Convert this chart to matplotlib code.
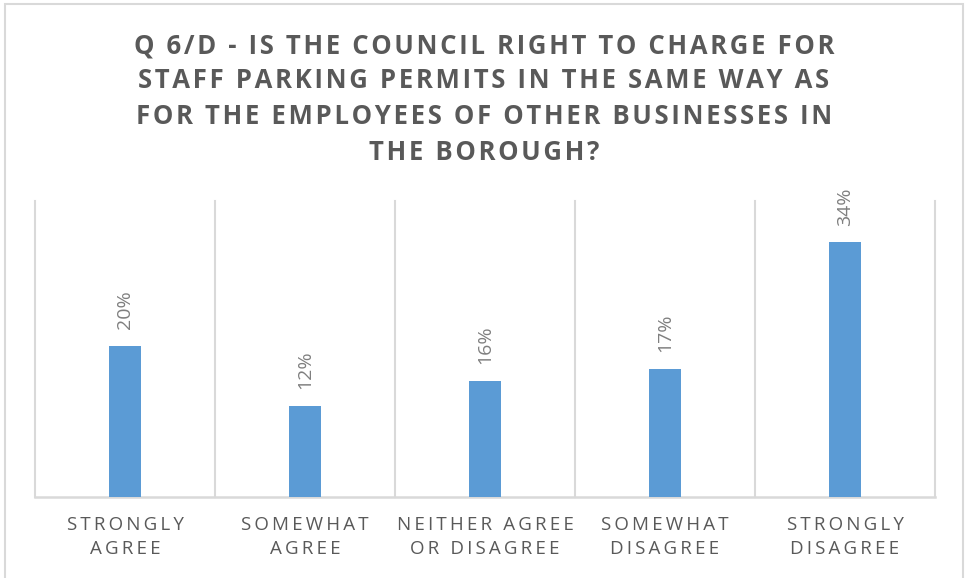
import numpy as np
import matplotlib
matplotlib.use("Agg")
import matplotlib.pyplot as plt
from matplotlib.patches import Rectangle

categories = [
    ["STRONGLY", "AGREE"],
    ["SOMEWHAT", "AGREE"],
    ["NEITHER AGREE", "OR DISAGREE"],
    ["SOMEWHAT", "DISAGREE"],
    ["STRONGLY", "DISAGREE"],
]
shares = [0.204, 0.123, 0.157, 0.173, 0.344]
title_lines = [
    "Q 6/D - IS THE COUNCIL RIGHT TO CHARGE FOR",
    "STAFF PARKING PERMITS IN THE SAME WAY AS",
    "FOR THE EMPLOYEES OF OTHER BUSINESSES IN",
    "THE BOROUGH?",
]

FONTS = ["Open Sans", "DejaVu Sans"]
BAR_COLOR = "#5B9BD5"
GRID_COLOR = "#D9D9D9"
TEXT_COLOR = "#595959"
LABEL_COLOR = "#7F7F7F"


def track(text, sep):
    """Fake letter spacing by putting a narrow space between characters"""
    return sep.join(text)


W, H = 965, 578
fig = plt.figure(figsize=(W / 100, H / 100), dpi=100)

# light frame round the whole chart
fig.patches.append(Rectangle((5 / W, -0.01), 958 / W, (H - 4) / H + 0.01,
                             transform=fig.transFigure, fill=False,
                             edgecolor=GRID_COLOR, linewidth=1.5))

# title, one line at a time
for i, line in enumerate(title_lines):
    fig.text(0.5015, 1 - (53 + i * 35.5) / H, track(line, "\u200a"),
             ha="center", va="baseline", fontsize=18.5, fontweight="bold",
             color=TEXT_COLOR, family=FONTS)

ax = fig.add_axes([35 / W, (H - 497) / H, 900 / W, 296 / H])
x = np.arange(len(shares))
bars = ax.bar(x, shares, width=0.183, color=BAR_COLOR, zorder=3)

for rect, v in zip(bars, shares):
    ax.annotate(f"{v:.0%}", (rect.get_x() + rect.get_width() / 2, v),
                xytext=(0, 12), textcoords="offset points",
                ha="center", va="bottom", rotation=90, fontsize=14,
                color=LABEL_COLOR, family=FONTS)

ax.set_xlim(-0.5, len(shares) - 0.5)
ax.set_ylim(0, 0.4)
ax.set_yticks([])

# separators between the categories
for b in np.arange(len(shares) + 1) - 0.5:
    ax.axvline(b, color=GRID_COLOR, linewidth=1.5, zorder=1, clip_on=False)

for side in ["top", "left", "right"]:
    ax.spines[side].set_visible(False)
ax.spines["bottom"].set_color(GRID_COLOR)
ax.spines["bottom"].set_linewidth(1.8)

ax.set_xticks(x)
ax.set_xticklabels(["\n".join(track(w, "\u2009") for w in c)
                    for c in categories],
                   fontsize=13.5, color=TEXT_COLOR, family=FONTS,
                   linespacing=1.38)
ax.tick_params(axis="x", length=0, pad=14)

fig.savefig("out.png", dpi=100)
